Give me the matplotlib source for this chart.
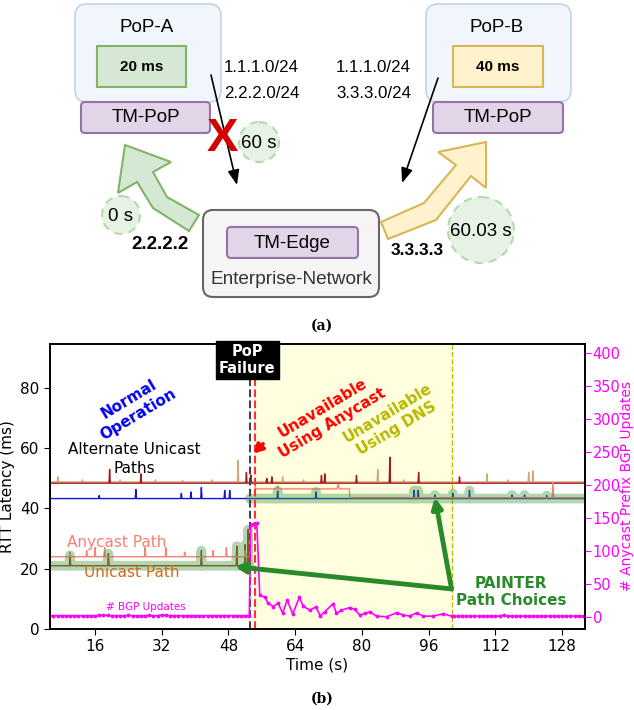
import numpy as np
import matplotlib
matplotlib.use('Agg')
import matplotlib.pyplot as plt
from matplotlib.patches import FancyBboxPatch, Circle, Polygon

# ---------------- chart data ----------------
t_fail = 53.1      # PoP failure
t_anycast = 54.3   # anycast unavailable
t_dns = 101.5      # DNS unavailable until here

# alternate unicast paths (~48.5 ms)
alt_tan_t = [7.1, 13, 22, 30.5, 37, 44, 50.3, 57, 61, 66, 83.8, 90, 110, 115, 120, 121]
alt_tan_v = [50.5, 49.5, 49.5, 49.5, 49.3, 49.5, 56, 49.5, 50.5, 49.5, 53, 49.5, 51.5, 49.5, 52, 52.5]
alt_red_t = [19.5, 27, 52.3, 53.4, 57.2, 58.4, 70.3, 71.1, 78.7, 86.7, 93.6, 103.4]
alt_red_v = [53, 51.5, 52, 51, 50, 50.5, 51, 51.5, 51, 57, 52, 50.5]

# blue path (~43 ms), chosen after failure
blue_t = [17, 25.8, 36.7, 39, 41.5, 47.1, 48.3, 59.8, 69, 92.5, 93.5, 97.5, 101.8, 105.8, 116, 119, 124.3]
blue_v = [44.3, 46.3, 45, 45.5, 47, 46, 46, 45.8, 45.5, 46, 46, 44.5, 45, 46, 44.5, 44.5, 44.3]

# unicast path to PoP-A (~21 ms), before failure
uni_t = [10, 19.2, 41.5, 50, 52, 52.7]
uni_v = [24.5, 25, 26, 27.5, 28, 33]

# anycast path (~24 ms before failure)
any_t = [10, 14, 16, 18.3, 28, 33, 37.5, 44.3, 47.5, 52]
any_v = [25.5, 26, 27, 27, 27, 27, 25.5, 26, 27, 26]
any_post_t = [54.3, 54.5, 59.5, 59.8, 60.1, 74.0, 74.3, 74.6, 77.0, 77.1, 125.6, 125.8, 126.0, 133.5]
any_post_v = [48.5, 46.5, 46.5, 47.5, 46.5, 46.5, 48.0, 46.5, 46.5, 43.6, 43.6, 48.6, 43.6, 43.6]

# BGP updates (right axis)
bgp_pre_t = list(range(5, 53))
bgp_pre_v = [2, 2, 2, 2, 2, 2, 2, 2, 2, 2, 2, 2, 2.5, 3, 2.5, 2, 2, 2, 2, 2.5, 2, 2, 2, 2,
             2.5, 2, 2, 3, 2.5, 2, 2, 2, 2, 2, 2, 2, 2, 2, 2, 2, 2, 2, 2, 2, 2, 2, 2, 2]
bgp_fail_t = [53.0, 53.3, 54.0, 54.8, 55.5, 56.7, 57.5, 58.7, 59.9, 61.0, 62.1, 63.4, 65.0, 65.9,
              67.5, 69.0, 70.0, 71.1, 73.1, 73.9, 75.1, 77.1, 78.3, 79.5, 80.7, 81.9, 83.5, 85.9,
              88.3, 89.9, 91.5, 93.1, 94.7, 97.1, 99.5, 101.5]
bgp_fail_v = [2, 140, 141, 142, 33, 30, 21, 16, 21, 6, 26, 4.5, 30, 16.5,
              10.5, 15.5, 1.5, 8, 20.5, 5.5, 10.5, 14.5, 11.5, 3, 5.5, 8, 1.5, 0.5,
              6.5, 3, 1.5, 6.5, 1.5, 1.5, 5, 1.5]
bgp_post_t = list(range(102, 134))
bgp_post_v = [1.5, 1.5, 1.5, 1.5, 1.5, 1.5, 1.5, 1.5, 1.5, 1.5, 1.5, 1.5, 3, 1.5, 1.5, 1.5,
              1.5, 1.5, 1.5, 1.5, 1.5, 1.5, 1.5, 1.5, 1.5, 1.5, 1.5, 1.5, 1.5, 1.5, 1.5, 1.5]

x_ticks = [16, 32, 48, 64, 80, 96, 112, 128]
y_ticks = [0, 20, 40, 60, 80]
y2_ticks = [0, 50, 100, 150, 200, 250, 300, 350, 400]


def spiky(t0, t1, base, st, sv, w=0.15):
    # flat baseline with the spikes
    xs, ys = [t0], [base]
    for t, v in sorted(zip(st, sv)):
        if t0 < t < t1:
            xs += [t - w, t, t + w]
            ys += [base, v, base]
    xs.append(t1)
    ys.append(base)
    return xs, ys


fig = plt.figure(figsize=(6.34, 7.10), dpi=100)

# ---------------- (a) diagram ----------------
ax0 = fig.add_axes([0, 1 - 320 / 710, 1, 320 / 710])
ax0.set_xlim(0, 634)
ax0.set_ylim(320, 0)
ax0.axis('off')
DF = 'Liberation Sans'


def rbox(x0, y0, x1, y1, fc, ec, r, lw=1.5, ls='-'):
    ax0.add_patch(FancyBboxPatch((x0, y0), x1 - x0, y1 - y0,
                                 boxstyle=f"round,pad=0,rounding_size={r}",
                                 fc=fc, ec=ec, lw=lw, ls=ls))


# PoP boxes
rbox(75, 4, 221, 102, '#f1f6fd', '#c3d3ea', 12, lw=1.2)
rbox(426, 4, 571, 102, '#f1f6fd', '#c3d3ea', 12, lw=1.2)
ax0.text(147, 27, 'PoP-A', ha='center', va='center', fontsize=13.5, family=DF)
ax0.text(497, 27, 'PoP-B', ha='center', va='center', fontsize=13.5, family=DF)
rbox(97, 46, 186, 87, '#d5e8d4', '#82b366', 0.1)
rbox(453, 46, 543, 87, '#fff2cc', '#d6b656', 0.1)
ax0.text(141.5, 67, '20 ms', ha='center', va='center', fontsize=11, weight='bold', family=DF)
ax0.text(498, 67, '40 ms', ha='center', va='center', fontsize=11, weight='bold', family=DF)
rbox(81, 102, 210, 133, '#e1d5e7', '#9673a6', 4)
rbox(433, 102, 563, 133, '#e1d5e7', '#9673a6', 4)
ax0.text(145.5, 118, 'TM-PoP', ha='center', va='center', fontsize=13.5, family=DF)
ax0.text(498, 118, 'TM-PoP', ha='center', va='center', fontsize=13.5, family=DF)

# prefixes
ax0.text(224, 68, '1.1.1.0/24', ha='left', va='center', fontsize=12.2, family=DF)
ax0.text(224, 93, '2.2.2.0/24', ha='left', va='center', fontsize=12.2, family=DF)
ax0.text(336, 68, '1.1.1.0/24', ha='left', va='center', fontsize=12.2, family=DF)
ax0.text(336, 93, '3.3.3.0/24', ha='left', va='center', fontsize=12.2, family=DF)

# announcements
arr = dict(arrowstyle='-|>,head_length=0.9,head_width=0.35', lw=1.2, color='black',
           shrinkA=0, shrinkB=0)
ax0.annotate('', xy=(237, 185), xytext=(211, 75), arrowprops=arr)
ax0.annotate('', xy=(402, 183), xytext=(438, 78), arrowprops=arr)
ax0.text(222, 139, 'X', ha='center', va='center', fontsize=34, weight='bold',
         color='#d40000', family=DF)

# big traffic arrows
ax0.add_patch(Polygon([(125, 145), (171, 162), (153, 172), (167, 197), (199, 215),
                       (189, 231), (153, 208), (137, 182), (118, 193)],
                      closed=True, fc='#d5e8d4', ec='#82b366', lw=1.5))
ax0.add_patch(Polygon([(486, 142), (486, 188), (471, 176), (436, 220), (388, 239),
                       (381, 222), (424, 203), (456, 165), (438, 152)],
                      closed=True, fc='#fff2cc', ec='#d6b656', lw=1.5))

# timing circles
for cx, cy, r, s in [(259, 142, 20, '60 s'), (121, 215, 19, '0 s'), (481, 230, 33, '60.03 s')]:
    ax0.add_patch(Circle((cx, cy), r, fc='#e6f2e3', ec='#b8d8ae', lw=1.5, ls=(0, (4, 3))))
    ax0.text(cx, cy + 1, s, ha='center', va='center', fontsize=13.5, family=DF)

ax0.text(160, 244, '2.2.2.2', ha='center', va='center', fontsize=13.5, weight='bold', family=DF)
ax0.text(417, 250, '3.3.3.3', ha='center', va='center', fontsize=12.5, weight='bold', family=DF)

# enterprise network
rbox(203, 210, 379, 297, '#f5f5f5', '#666666', 10)
rbox(227, 227, 358, 258, '#e1d5e7', '#9673a6', 4)
ax0.text(292.5, 243, 'TM-Edge', ha='center', va='center', fontsize=13.5, family=DF)
ax0.text(291, 279, 'Enterprise-Network', ha='center', va='center', fontsize=13.7,
         color='#333333', family=DF)

fig.text(322 / 634, 1 - 326 / 710, '(a)', ha='center', va='center', fontsize=10,
         weight='bold', family='DejaVu Serif')
fig.text(322 / 634, 1 - 699 / 710, '(b)', ha='center', va='center', fontsize=10,
         weight='bold', family='DejaVu Serif')

# ---------------- (b) chart ----------------
ax = fig.add_axes([50 / 634, 1 - 629 / 710, 535 / 634, 285 / 710])
ax.set_xlim(5.2, 133.5)
ax.set_ylim(0, 94.6)

ax.axvspan(t_anycast, t_dns, color='#ffffe0', zorder=0)
ax.axvline(t_fail, color='#444444', ls='--', lw=1.5, zorder=4)
ax.axvline(t_anycast, color='#ff3030', ls='--', lw=1.5, zorder=4)
ax.axvline(t_dns, color='#bbbb00', ls='--', lw=1, zorder=1)

x, y = spiky(5.2, 133.5, 48.8, alt_tan_t, alt_tan_v)
ax.plot(x, y, color='#d2a679', lw=1, zorder=2)
x, y = spiky(5.2, 133.5, 48.4, alt_red_t, alt_red_v)
ax.plot(x, y, color='#a3191c', lw=1, zorder=2)
xb, yb = spiky(5.2, 133.5, 43.3, blue_t, blue_v)
ax.plot(xb, yb, color='#1414d2', lw=1, zorder=2)
xu, yu = spiky(5.2, t_fail, 21.0, uni_t, uni_v)
ax.plot(xu, yu, color='#a93410', lw=1, zorder=2)
x, y = spiky(5.2, t_fail, 24.0, any_t, any_v)
ax.plot(x, y, color='salmon', lw=1, zorder=2)
ax.plot(any_post_t, any_post_v, color='salmon', lw=1, zorder=2)

# PAINTER choice highlight
ax.plot(xu, yu, color='#3f9a3f', lw=7, alpha=0.4, solid_capstyle='round',
        solid_joinstyle='round', zorder=3)
bsel = [i for i, t in enumerate(xb) if t >= t_fail]
ax.plot([t_fail] + [xb[i] for i in bsel], [43.3] + [yb[i] for i in bsel], color='#3f9a3f',
        lw=7, alpha=0.4, solid_capstyle='round', solid_joinstyle='round', zorder=3)

ax.set_xticks(x_ticks)
ax.set_yticks(y_ticks)
ax.tick_params(labelsize=11, length=4)
ax.set_xlabel('Time (s)', fontsize=11, labelpad=2)
ax.set_ylabel('RTT Latency (ms)', fontsize=11)
for s in ax.spines.values():
    s.set_linewidth(1.2)

ax2 = ax.twinx()
ax2.set_ylim(-18, 413)
ax2.plot(bgp_pre_t + bgp_fail_t + bgp_post_t, bgp_pre_v + bgp_fail_v + bgp_post_v,
         color='magenta', lw=1.2, marker='.', ms=3.5)
ax2.set_yticks(y2_ticks)
ax2.tick_params(axis='y', labelsize=10.5, length=4, pad=1.5, colors='magenta')
fig.text(627.5 / 634, 1 - 486 / 710, '# Anycast Prefix BGP Updates', rotation=90,
         ha='center', va='center', fontsize=10, color='magenta')
for s in ax2.spines.values():
    s.set_linewidth(1.2)

ax2.set_zorder(ax.get_zorder() + 1)
ax.patch.set_visible(True)
ax2.patch.set_visible(False)


def d2(tx, ty):
    # left-axis data -> right-axis data
    return (tx, -18 + (ty / 94.6) * 431)


ax2.text(*d2(52.5, 89.3), 'PoP\nFailure', ha='center', va='center', fontsize=10.5,
         weight='bold', color='white', linespacing=1.15,
         bbox=dict(boxstyle='square,pad=0.22', fc='black', ec='black'))
ax2.text(*d2(25.3, 73.7), 'Normal\nOperation', ha='center', va='center', fontsize=11,
         weight='bold', color='#0000ee', rotation=31, linespacing=1.25)
ax2.text(*d2(25.3, 56.5), 'Alternate Unicast\nPaths', ha='center', va='center', fontsize=11,
         linespacing=1.3)
ax2.text(*d2(71.8, 70.7), 'Unavailable\nUsing Anycast', ha='center', va='center', fontsize=11,
         weight='bold', color='#ff0000', rotation=31, linespacing=1.25)
ax2.text(*d2(87.2, 69), 'Unavailable\nUsing DNS', ha='center', va='center', fontsize=11,
         weight='bold', color='#b8b800', rotation=31, linespacing=1.25)
ax2.text(*d2(21.2, 28.7), 'Anycast Path', ha='center', va='center', fontsize=11, color='salmon')
ax2.text(*d2(24.8, 18.7), 'Unicast Path', ha='center', va='center', fontsize=11, color='#d2691e')
ax2.text(*d2(28.2, 7.3), '# BGP Updates', ha='center', va='center', fontsize=7.5, color='magenta')
ax2.text(*d2(115.7, 12.3), 'PAINTER\nPath Choices', ha='center', va='center', fontsize=11,
         weight='bold', color='#2a8a2a', linespacing=1.1)

ax2.annotate('', xy=d2(54.2, 58.3), xytext=d2(56.3, 61.5),
             arrowprops=dict(arrowstyle='-|>,head_length=0.5,head_width=0.3', lw=2.5,
                             color='red', shrinkA=0, shrinkB=0))
garr = dict(arrowstyle='-|>,head_length=0.6,head_width=0.3', lw=3.5, color='#2a8a2a',
            shrinkA=0, shrinkB=0)
ax2.annotate('', xy=d2(49.5, 20.7), xytext=d2(101.5, 13.3), arrowprops=garr)
ax2.annotate('', xy=d2(97.5, 43.7), xytext=d2(101.5, 13.3), arrowprops=garr)

fig.savefig('out.png', dpi=100)
